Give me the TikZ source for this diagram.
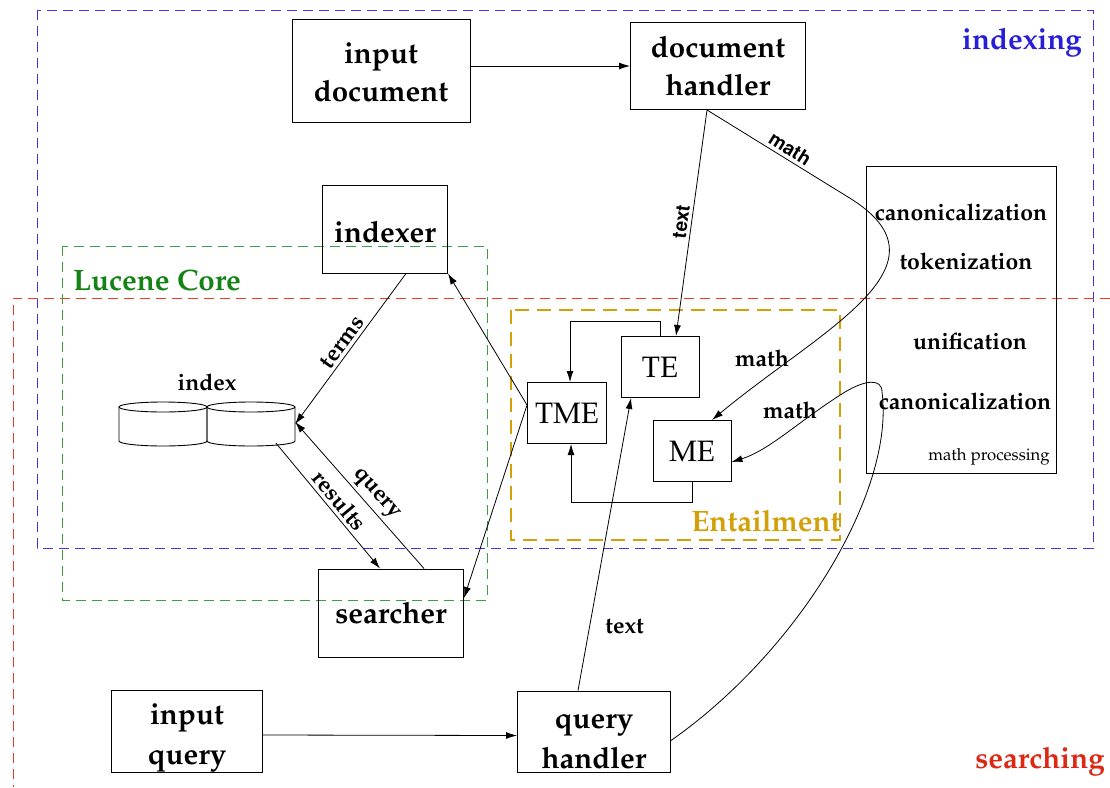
\documentclass[tikz,border=0pt]{standalone}
\usepackage[T1]{fontenc}
\usepackage{mathpazo}
\usetikzlibrary{arrows.meta}
\definecolor{idxblue}{RGB}{70,50,235}
\definecolor{idxtext}{RGB}{40,30,215}
\definecolor{srchred}{RGB}{235,60,40}
\definecolor{srchtext}{RGB}{220,40,20}
\definecolor{lgreen}{RGB}{60,160,60}
\definecolor{ltext}{RGB}{20,130,20}
\definecolor{entgold}{RGB}{212,160,10}
\begin{document}
\begin{tikzpicture}[x=1pt,y=-1pt,
 box/.style={draw, line width=1pt, align=center, inner sep=0pt, font=\bfseries\fontsize{29.5}{38}\selectfont},
 qbox/.style={box, font=\bfseries\fontsize{29.5}{40}\selectfont},
 ebox/.style={draw, line width=1pt, inner sep=0pt, minimum width=78pt, minimum height=61pt, font=\fontsize{29.5}{30}\selectfont},
 arr/.style={-{Latex[length=11pt,width=7pt]}, line width=0.8pt},
 plain/.style={line width=0.8pt},
 lbl/.style={font=\bfseries\fontsize{23}{26}\selectfont},
 slbl/.style={font=\usefont{T1}{phv}{b}{n}\fontsize{19}{22}\selectfont},
 region/.style={line width=0.9pt, dash pattern=on 10pt off 6pt},
 title/.style={font=\bfseries\fontsize{29.5}{32}\selectfont}
]
\useasboundingbox (0,0) rectangle (1110,787);

% regions
\draw[region, idxblue] (37,10) rectangle (1093,548);
\draw[region, srchred] (1110,298) -- (13,298) -- (13,787);
\draw[region, lgreen] (62,246) rectangle (487,600);
\draw[entgold, line width=2pt, dash pattern=on 14pt off 8pt] (511,310) rectangle (840,540);

\node[title, text=idxtext] (lidx) at (1022,43) {indexing};
\node[title, text=srchtext] (lsrch) at (1040,762) {searching};
\node[title, text=ltext] (lluc) at (157,280) {Lucene Core};
\node[title, text=entgold] (lent) at (766,521) {Entailment};

% boxes
\node[box, minimum width=178pt, minimum height=103pt] (indoc) at (381,71) {\rule{0pt}{24pt}input\\document};
\node[box, minimum width=175pt, minimum height=87pt] (dh) at (718,66) {document\\handler};
\node[box, minimum width=125pt, minimum height=88pt] (indexer) at (385,229) {\rule{0pt}{27pt}indexer};
\node[box, minimum width=145pt, minimum height=88pt] (searcher) at (391,613) {searcher};
\node[qbox, minimum width=151pt, minimum height=82pt] (inq) at (187,731) {\rule{0pt}{34pt}input\\query};
\node[qbox, minimum width=153pt, minimum height=81pt] (qh) at (594,731.5) {\rule{0pt}{35pt}query\\handler};

% math processing
\node[draw, line width=1pt, minimum width=190pt, minimum height=307pt, inner sep=0pt] (mp) at (961,319.5) {};
\node[lbl] (c1) at (961,212) {canonicalization};
\node[lbl] (tok) at (966,261) {tokenization};
\node[lbl] (uni) at (970,341) {unification};
\node[lbl] (c2) at (965,401) {canonicalization};
\node[font=\fontsize{16.7}{18}\selectfont] (mpl) at (989,457) {math processing};

% entailment boxes
\node[ebox] (te) at (660,367) {TE};
\node[ebox, minimum width=79pt] (tme) at (567,413) {TME};
\node[ebox] (me) at (692,451) {ME};

% index
\node[minimum width=176pt, minimum height=44pt, inner sep=0pt] (index) at (207,424) {};
\foreach \cx in {163,251} {
 \draw[line width=0.9pt] (\cx-44,407) -- (\cx-44,441) arc[start angle=180, end angle=360, x radius=44pt, y radius=5pt] -- (\cx+44,407);
 \draw[line width=0.9pt] (\cx,407) ellipse[x radius=44pt, y radius=5pt];
}
\node[lbl] (lindex) at (207,382) {index};

% connectors
\draw[arr] ([yshift=5pt]indoc.east) -- (dh.west);
\coordinate (dhs) at ([xshift=-11pt]dh.south);
\draw[arr] (dhs) -- node[slbl, sloped, above] {text} ([xshift=16pt]te.north);
\coordinate (kink) at (848,197);
\draw[plain] (dhs) -- node[slbl, sloped, above, pos=0.55] {math} (kink);
\draw[arr] (kink) .. controls (960,265) and (820,330) .. ([xshift=20pt]me.north);
\node[lbl] (m1) at (762,358) {math};

\draw[arr] ([yshift=-9pt]qh.east) .. controls (800,650) and (895,490) .. (882,392)
  .. controls (882,378) and (865,380) .. (845,392)
  .. controls (800,420) and (770,450) .. ([yshift=-11pt]me.east);
\node[lbl] (m2) at (790,410) {math};

\draw[arr] ([xshift=-16pt]qh.north) -- node[lbl, right=12pt, pos=0.22] {text} ([xshift=-29pt]te.south);

\draw[arr] ([yshift=8pt]tme.west) -- (indexer.south east);
\draw[arr] ([yshift=8pt]tme.west) -- ([yshift=15pt]searcher.east);

\draw[arr] (te.north) -- ++(0,-15) -| ([xshift=3pt]tme.north);
\draw[arr] (me.south) -- ++(0,20) -| ([xshift=4pt]tme.south);

\draw[arr] ([xshift=21pt]indexer.south) -- node[lbl, sloped, above] {terms} (index.east);
\draw[arr] ([xshift=33pt]searcher.north) -- node[lbl, sloped, above, pos=0.45] {query} ([yshift=2pt]index.east);
\draw[arr] ([xshift=69pt,yshift=3pt]index.south) -- node[lbl, sloped, above, pos=0.52] {results} ([xshift=-11pt]searcher.north);

\draw[arr] ([yshift=-4pt]inq.east) -- ([yshift=-4pt]qh.west);
\end{tikzpicture}
\end{document}
